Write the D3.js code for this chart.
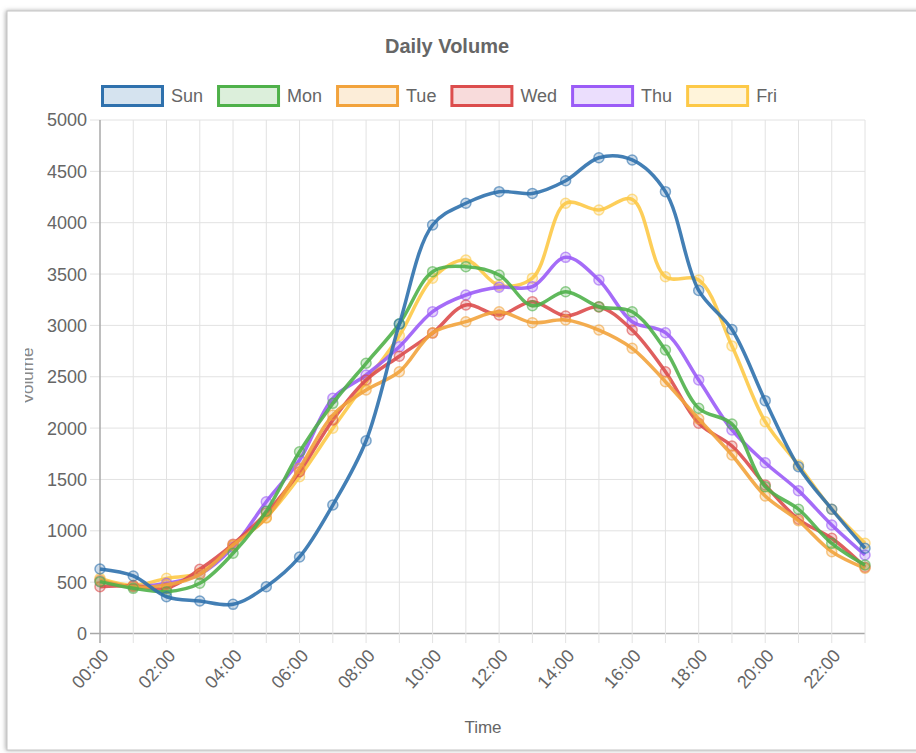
<!DOCTYPE html>
<html>
<head>
<meta charset="utf-8">
<script src="https://cdn.jsdelivr.net/npm/d3@7"></script>
<style>
  body { margin: 0; background: #fff; }
  text { font-family: "Liberation Sans", Arial, sans-serif; }
</style>
</head>
<body>
<div id="my_dataviz"></div>
<script>
// data
var hours = ["00:00","01:00","02:00","03:00","04:00","05:00","06:00","07:00","08:00","09:00","10:00","11:00",
             "12:00","13:00","14:00","15:00","16:00","17:00","18:00","19:00","20:00","21:00","22:00","23:00"];
var days = ["Sun", "Mon", "Tue", "Wed", "Thu", "Fri"];
var sun = [628, 560, 358, 316, 284, 456, 745, 1251, 1877, 3013, 3978, 4189, 4302, 4285, 4409, 4633, 4611, 4302, 3340, 2960, 2267, 1624, 1210, 830];
var mon = [505, 440, 407, 489, 781, 1190, 1770, 2241, 2631, 3015, 3523, 3572, 3491, 3192, 3328, 3182, 3133, 2760, 2193, 2040, 1430, 1210, 878, 667];
var tue = [520, 455, 472, 575, 860, 1125, 1608, 2127, 2371, 2549, 2929, 3036, 3133, 3027, 3053, 2955, 2777, 2452, 2090, 1738, 1339, 1098, 797, 635];
var wed = [456, 465, 440, 625, 870, 1173, 1575, 2079, 2468, 2700, 2925, 3199, 3101, 3231, 3092, 3180, 2955, 2549, 2047, 1826, 1446, 1112, 927, 645];
var thu = [510, 455, 489, 575, 841, 1283, 1690, 2290, 2517, 2793, 3134, 3296, 3371, 3377, 3663, 3442, 3036, 2929, 2468, 1982, 1663, 1391, 1056, 764];
var fri = [537, 470, 537, 590, 857, 1130, 1527, 1998, 2450, 2900, 3459, 3637, 3390, 3460, 4189, 4124, 4228, 3474, 3442, 2800, 2062, 1640, 1210, 878];
var yTicks = [0, 500, 1000, 1500, 2000, 2500, 3000, 3500, 4000, 4500, 5000];

var seriesValues = [sun, mon, tue, wed, thu, fri];
var colors = ["#2f71ad", "#4fb14a", "#f2a33c", "#dc4d4d", "#9b5cf7", "#fdc947"];

var W = 916, H = 753;
var svg = d3.select("#my_dataviz")
  .append("svg")
    .attr("width", W)
    .attr("height", H);

// card frame with a bit of shadow
var defs = svg.append("defs");
var f = defs.append("filter").attr("id", "shadow")
  .attr("x", "-5%").attr("y", "-5%").attr("width", "110%").attr("height", "110%");
f.append("feDropShadow").attr("dx", -1).attr("dy", 0).attr("stdDeviation", 2)
  .attr("flood-color", "#777").attr("flood-opacity", 0.6);
defs.append("clipPath").attr("id", "ylabclip")
  .append("rect").attr("x", 25).attr("y", 0).attr("width", 40).attr("height", H);

svg.append("rect")
  .attr("x", 7).attr("y", 11)
  .attr("width", W + 20).attr("height", 739)
  .attr("fill", "#fff")
  .attr("stroke", "#c4c4c4")
  .attr("filter", "url(#shadow)");

// scales
var x = d3.scalePoint()
  .domain(hours)
  .range([100, 865]);
var y = d3.scaleLinear()
  .domain([0, 5000])
  .range([633.5, 120]);

// grid
svg.append("g")
  .selectAll("line")
  .data(yTicks)
  .enter()
  .append("line")
    .attr("x1", 90).attr("x2", 865)
    .attr("y1", function(d) { return y(d) })
    .attr("y2", function(d) { return y(d) })
    .attr("stroke", function(d) { return d === 0 ? "#a8a8a8" : "#e2e2e2" })
    .attr("stroke-width", function(d) { return d === 0 ? 1.5 : 1 });

svg.append("g")
  .selectAll("line")
  .data(hours)
  .enter()
  .append("line")
    .attr("x1", function(d) { return x(d) })
    .attr("x2", function(d) { return x(d) })
    .attr("y1", 120).attr("y2", 643)
    .attr("stroke", function(d, i) { return i === 0 ? "#a8a8a8" : "#e2e2e2" })
    .attr("stroke-width", function(d, i) { return i === 0 ? 1.5 : 1 });

// y tick labels
svg.append("g")
  .selectAll("text")
  .data(yTicks)
  .enter()
  .append("text")
    .attr("x", 87)
    .attr("y", function(d) { return y(d) })
    .attr("dy", "0.36em")
    .attr("text-anchor", "end")
    .style("font-size", "18px")
    .attr("fill", "#666")
    .text(function(d) { return d });

// x tick labels, every second hour
svg.append("g")
  .selectAll("text")
  .data(hours.filter(function(d, i) { return i % 2 === 0 }))
  .enter()
  .append("text")
    .attr("transform", function(d) { return "translate(" + (x(d) + 5) + ",652) rotate(-48)" })
    .attr("dy", "0.36em")
    .attr("text-anchor", "end")
    .style("font-size", "18px")
    .attr("fill", "#666")
    .text(function(d) { return d });

// axis titles
svg.append("text")
  .attr("x", 483)
  .attr("y", 733)
  .attr("text-anchor", "middle")
  .style("font-size", "17px")
  .attr("fill", "#666")
  .text("Time");

svg.append("g")
  .attr("clip-path", "url(#ylabclip)")
  .append("text")
    .attr("transform", "translate(33,376) rotate(-90)")
    .attr("text-anchor", "middle")
    .style("font-size", "17px")
    .attr("fill", "#888")
    .text("Volume");

// title
svg.append("text")
  .attr("x", 447)
  .attr("y", 53)
  .attr("text-anchor", "middle")
  .style("font-size", "20px")
  .style("font-weight", "bold")
  .attr("fill", "#666")
  .text("Daily Volume");

// legend
var legend = svg.append("g");
var lx = 101;
days.forEach(function(name, i) {
  legend.append("rect")
    .attr("x", lx + 1.5).attr("y", 86.5)
    .attr("width", 60).attr("height", 19)
    .attr("fill", d3.color(colors[i]).copy({opacity: 0.2}))
    .attr("stroke", colors[i])
    .attr("stroke-width", 3);
  var t = legend.append("text")
    .attr("x", lx + 70)
    .attr("y", 102)
    .style("font-size", "18px")
    .attr("fill", "#666")
    .text(name);
  lx += 70 + t.node().getComputedTextLength() + 14;
});

// lines, first dataset drawn on top
var line = d3.line()
  .x(function(d, i) { return x(hours[i]) })
  .y(function(d) { return y(d) })
  .curve(d3.curveCatmullRom.alpha(0.5));

var order = [5, 4, 3, 2, 1, 0];
order.forEach(function(k) {
  var g = svg.append("g");
  g.append("path")
    .datum(seriesValues[k])
    .attr("fill", "none")
    .attr("stroke", colors[k])
    .attr("stroke-opacity", 0.9)
    .attr("stroke-width", 3.5)
    .attr("d", line);
  g.selectAll("circle")
    .data(seriesValues[k])
    .enter()
    .append("circle")
      .attr("cx", function(d, i) { return x(hours[i]) })
      .attr("cy", function(d) { return y(d) })
      .attr("r", 5)
      .attr("fill", d3.color(colors[k]).copy({opacity: 0.25}))
      .attr("stroke", colors[k])
      .attr("stroke-opacity", 0.6)
      .attr("stroke-width", 1.5);
});
</script>
</body>
</html>
